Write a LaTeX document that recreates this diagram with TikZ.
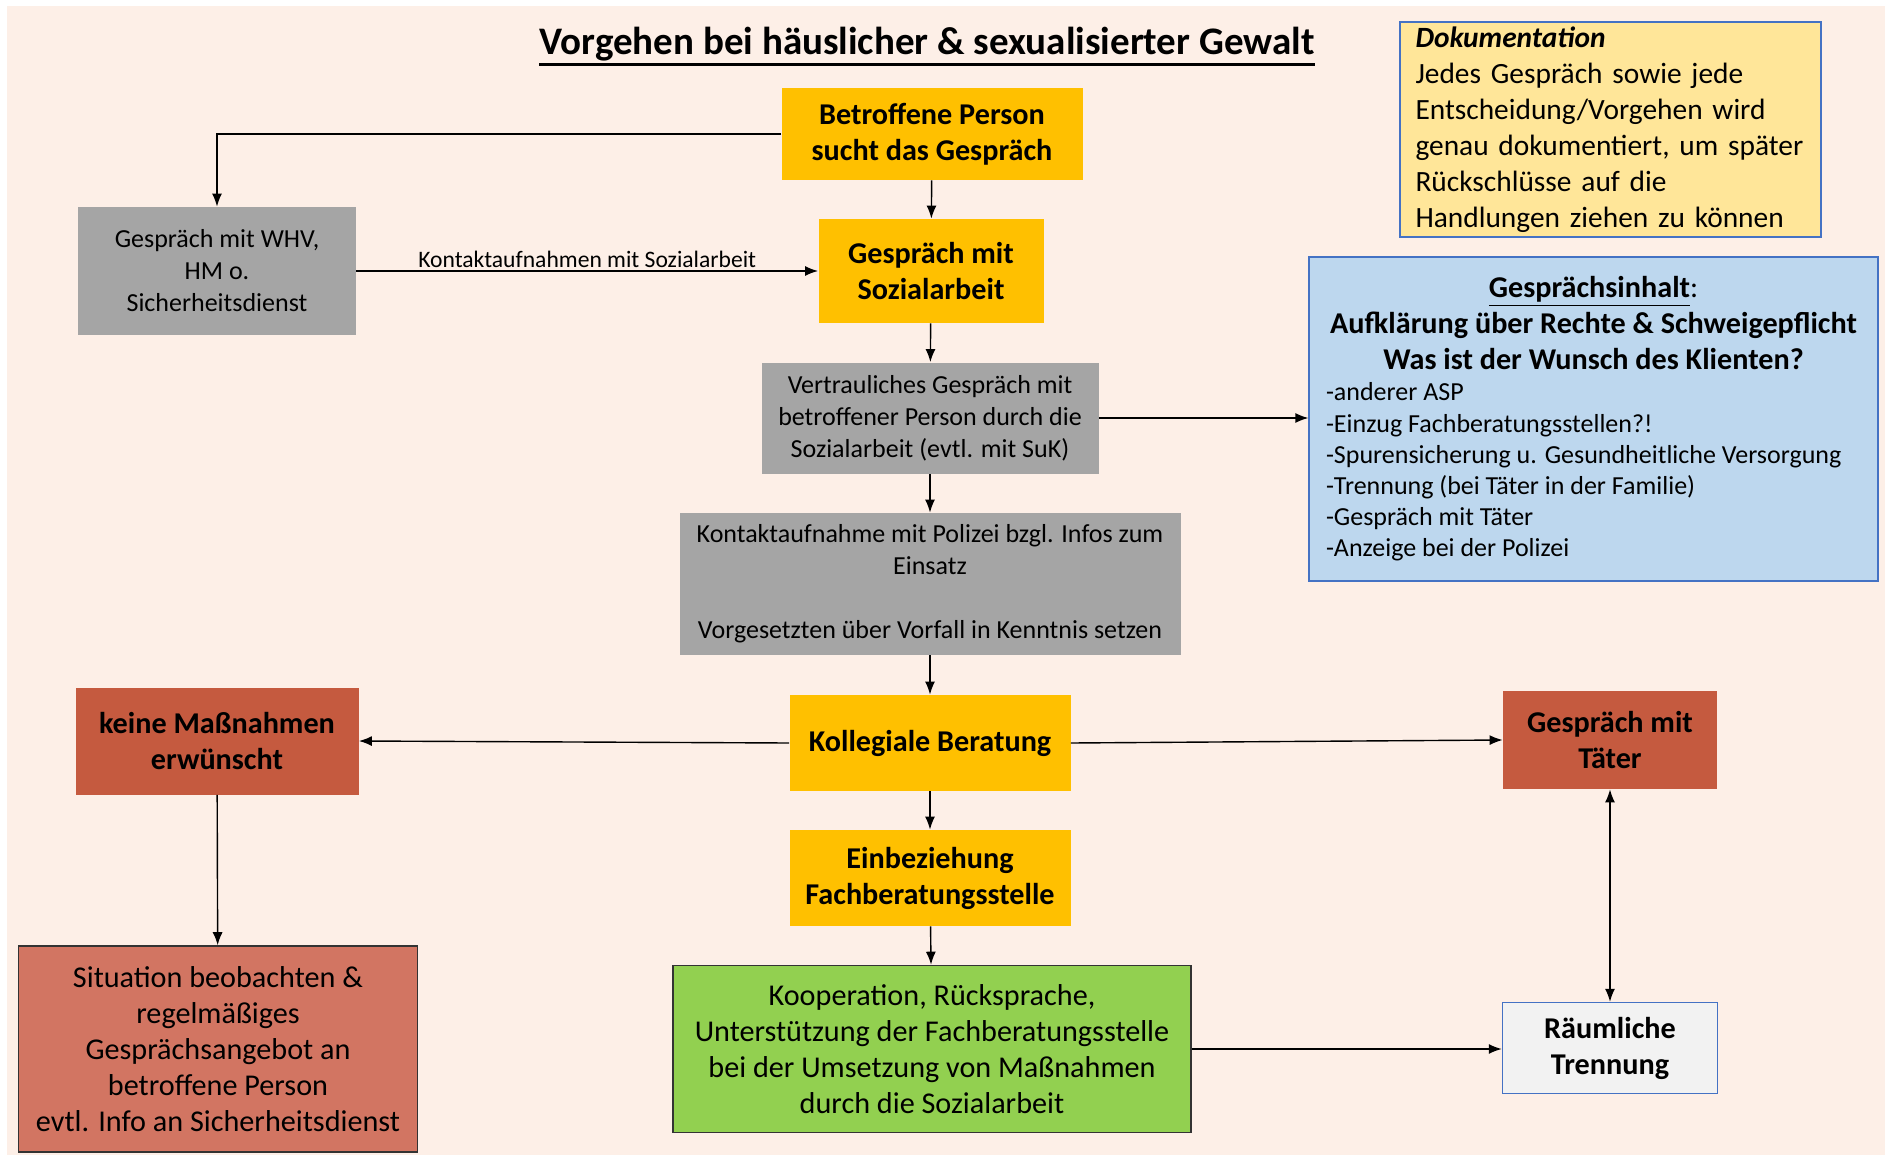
\documentclass[tikz,border=0pt]{standalone}
\usepackage{fontspec}
\setmainfont{Carlito}
\usepackage{tikz}
\usetikzlibrary{shapes,arrows.meta,positioning}

\definecolor{hintergrund}{HTML}{FDEFE7}
\definecolor{gelb}{HTML}{FFC000}
\definecolor{grau}{HTML}{A5A5A5}
\definecolor{rot}{HTML}{C55A3F}
\definecolor{hellrot}{HTML}{D27562}
\definecolor{gruen}{HTML}{92D050}
\definecolor{hellgelb}{HTML}{FFE699}
\definecolor{hellblau}{HTML}{BDD7EE}
\definecolor{rahmenblau}{HTML}{4472C4}
\definecolor{weissgrau}{HTML}{F2F2F2}

\tikzset{
  >={Latex[length=6.5pt,width=5pt]},
  kasten/.style={rectangle,inner sep=0pt,align=center,text=black},
  gross/.style={font=\fontsize{15.1}{18}\selectfont},
  fett/.style={font=\fontsize{15.1}{18}\selectfont\bfseries},
  klein/.style={font=\fontsize{13}{16}\selectfont},
  pfeil/.style={->,line width=0.7pt}
}

\begin{document}
\begin{tikzpicture}[x=0.5pt,y=-0.5pt]
  \useasboundingbox (0,0) rectangle (1885,1155);
  \fill[hintergrund] (7,6) rectangle (1885,1155);

  %Titel
  \node[kasten,font=\fontsize{19.5}{23}\selectfont\bfseries] (titel) at (927,44)
    {Vorgehen bei häuslicher \& sexualisierter Gewalt};
  \draw[line width=1.2pt] ([yshift=-1.5pt]titel.south west) -- ([yshift=-1.5pt]titel.south east);

  %mittlere Spalte
  \node[kasten,fett,fill=gelb,minimum width=150.5pt,minimum height=46pt] (betroffen) at (932,134)
    {Betroffene Person\\sucht das Gespräch};
  \node[kasten,fett,fill=gelb,minimum width=112.5pt,minimum height=52pt] (sozial) at (931,271)
    {Gespräch mit\\Sozialarbeit};
  \node[kasten,klein,fill=grau,minimum width=168.5pt,minimum height=55.5pt] (vertraulich) at (930,418)
    {Vertrauliches Gespräch mit\\betroffener Person durch die\\Sozialarbeit (evtl. mit SuK)};
  \node[kasten,klein,fill=grau,minimum width=250.5pt,minimum height=71pt] (polizei) at (930,584)
    {Kontaktaufnahme mit Polizei bzgl. Infos zum\\Einsatz\\\mbox{}\\Vorgesetzten über Vorfall in Kenntnis setzen};
  \node[kasten,fett,fill=gelb,minimum width=140.5pt,minimum height=48pt] (kollegial) at (930,743)
    {Kollegiale Beratung};
  \node[kasten,fett,fill=gelb,minimum width=140.5pt,minimum height=48pt] (einbez) at (930,878)
    {Einbeziehung\\Fachberatungsstelle};
  \node[kasten,gross,fill=gruen,draw=black!80,line width=0.8pt,minimum width=259pt,minimum height=83.5pt] (koop) at (932,1049)
    {Kooperation, Rücksprache,\\Unterstützung der Fachberatungsstelle\\bei der Umsetzung von Maßnahmen\\durch die Sozialarbeit};

  %linke Spalte
  \node[kasten,klein,fill=grau,minimum width=139pt,minimum height=64pt] (whv) at (217,271)
    {Gespräch mit WHV,\\HM o.\\Sicherheitsdienst};
  \node[kasten,fett,fill=rot,minimum width=141.5pt,minimum height=53.5pt] (keine) at (217,741)
    {keine Maßnahmen\\erwünscht};
  \node[kasten,gross,fill=hellrot,draw=black!80,line width=0.8pt,minimum width=199.5pt,minimum height=103pt] (situation) at (218,1049)
    {Situation beobachten \&\\regelmäßiges\\Gesprächsangebot an\\betroffene Person\\evtl. Info an Sicherheitsdienst};

  %rechte Spalte
  \node[kasten,fett,fill=rot,minimum width=107pt,minimum height=49pt] (taeter) at (1610,740)
    {Gespräch mit\\Täter};
  \node[kasten,fett,fill=weissgrau,draw=rahmenblau,line width=0.7pt,minimum width=107.5pt,minimum height=45.5pt] (raeumlich) at (1610,1048)
    {Räumliche\\Trennung};

  %Dokumentation
  \node[kasten,font=\fontsize{14.7}{18}\selectfont,fill=hellgelb,draw=rahmenblau,line width=0.6pt,minimum width=210.5pt,minimum height=107.5pt,
        align=left,text width=195pt] (doku) at (1610.5,129.5)
    {\textbf{\textit{Dokumentation}}\\Jedes Gespräch sowie jede\\Entscheidung/Vorgehen wird\\genau dokumentiert, um später\\Rückschlüsse auf die\\Handlungen ziehen zu können};

  %Gespraechsinhalt
  \node[kasten,fill=hellblau,draw=rahmenblau,line width=0.6pt,minimum width=284.5pt,minimum height=162pt] (inhalt) at (1593.5,419)
    {\begin{minipage}{267.5pt}
      \fontsize{15.1}{18}\selectfont\bfseries
      \makebox[\linewidth]{\underline{Gesprächsinhalt}\mdseries:}\\
      \makebox[\linewidth]{Aufklärung über Rechte \& Schweigepflicht}\\
      \makebox[\linewidth]{Was ist der Wunsch des Klienten?}\par
      \fontsize{13}{15.6}\selectfont\mdseries\raggedright
      -anderer ASP\\
      -Einzug Fachberatungsstellen?!\\
      -Spurensicherung u. Gesundheitliche Versorgung\\
      -Trennung (bei Täter in der Familie)\\
      -Gespräch mit Täter\\
      -Anzeige bei der Polizei
    \end{minipage}};

  %Pfeile
  \draw[pfeil] (betroffen.west) -| (whv.north);
  \draw[pfeil] (betroffen) -- (sozial);
  \draw[pfeil] (whv.east) -- (sozial.west)
    node[midway,above,inner sep=1.5pt,font=\fontsize{11.8}{14}\selectfont] {Kontaktaufnahmen mit Sozialarbeit};
  \draw[pfeil] (sozial) -- (vertraulich);
  \draw[pfeil] (vertraulich) -- (polizei);
  \draw[pfeil] (vertraulich.east) -- (inhalt.west |- vertraulich.east);
  \draw[pfeil] (polizei) -- (kollegial);
  \draw[pfeil] (kollegial) -- (einbez);
  \draw[pfeil] (einbez) -- (koop);
  \draw[pfeil] (kollegial.west) -- (keine.east);
  \draw[pfeil] (kollegial.east) -- (taeter.west);
  \draw[pfeil] (keine) -- (situation);
  \draw[pfeil,<->] (taeter) -- (raeumlich);
  \draw[pfeil] (koop.east) -- (raeumlich.west |- koop.east);

\end{tikzpicture}
\end{document}
